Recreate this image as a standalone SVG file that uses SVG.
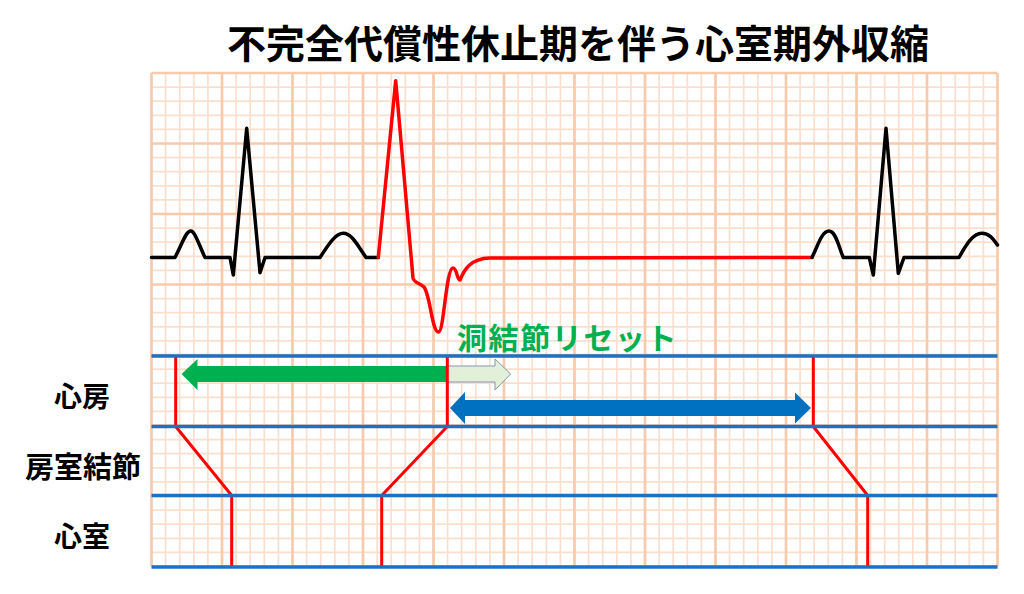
<svg xmlns="http://www.w3.org/2000/svg" width="1024" height="594" viewBox="0 0 1024 594">
<style>
.minor{stroke:#FBDFCD;stroke-width:1.7;fill:none}
.major{stroke:#F7CAAC;stroke-width:2.7;fill:none}
.lane{stroke:#1F70C1;stroke-width:3.5;fill:none}
.cond{stroke:#FF0000;stroke-width:3;fill:none;stroke-linejoin:round}
.ecgb{stroke:#000;stroke-width:3.5;fill:none;stroke-linejoin:round;stroke-linecap:round}
.ecgr{stroke:#FF0000;stroke-width:3.5;fill:none;stroke-linejoin:round;stroke-linecap:round}
.lbl{font-family:"Noto Sans CJK JP","Noto Sans",sans-serif;font-weight:bold;fill:#000}
</style>
<rect width="1024" height="594" fill="#fff"/>
<g id="grid">
<path class="minor" d="M165.6 73V566.5M179.7 73V566.5M193.8 73V566.5M207.9 73V566.5M236.1 73V566.5M250.2 73V566.5M264.3 73V566.5M278.4 73V566.5M306.6 73V566.5M320.7 73V566.5M334.8 73V566.5M348.9 73V566.5M377.1 73V566.5M391.2 73V566.5M405.3 73V566.5M419.4 73V566.5M447.6 73V566.5M461.7 73V566.5M475.8 73V566.5M489.9 73V566.5M518.1 73V566.5M532.2 73V566.5M546.3 73V566.5M560.4 73V566.5M588.6 73V566.5M602.7 73V566.5M616.8 73V566.5M630.9 73V566.5M659.1 73V566.5M673.2 73V566.5M687.3 73V566.5M701.4 73V566.5M729.6 73V566.5M743.7 73V566.5M757.8 73V566.5M771.9 73V566.5M800.1 73V566.5M814.2 73V566.5M828.3 73V566.5M842.4 73V566.5M870.6 73V566.5M884.7 73V566.5M898.8 73V566.5M912.9 73V566.5M941.1 73V566.5M955.2 73V566.5M969.3 73V566.5M983.4 73V566.5
M151.5 87.1H997.5M151.5 101.2H997.5M151.5 115.3H997.5M151.5 129.4H997.5M151.5 157.6H997.5M151.5 171.7H997.5M151.5 185.8H997.5M151.5 199.9H997.5M151.5 228.1H997.5M151.5 242.2H997.5M151.5 256.3H997.5M151.5 270.4H997.5M151.5 298.6H997.5M151.5 312.7H997.5M151.5 326.8H997.5M151.5 340.9H997.5M151.5 369.1H997.5M151.5 383.2H997.5M151.5 397.3H997.5M151.5 411.4H997.5M151.5 439.6H997.5M151.5 453.7H997.5M151.5 467.8H997.5M151.5 481.9H997.5M151.5 510.1H997.5M151.5 524.2H997.5M151.5 538.3H997.5M151.5 552.4H997.5"/>
<path class="major" d="M151.5 73V566.5M222 73V566.5M292.5 73V566.5M363 73V566.5M433.5 73V566.5M504 73V566.5M574.5 73V566.5M645 73V566.5M715.5 73V566.5M786 73V566.5M856.5 73V566.5M927 73V566.5M997.5 73V566.5
M151.5 73H997.5M151.5 143.5H997.5M151.5 214H997.5M151.5 284.5H997.5M151.5 355H997.5M151.5 425.5H997.5M151.5 496H997.5M151.5 566.5H997.5"/>
</g>
<g id="title">
<text class="lbl" x="578" y="58" font-size="39" text-anchor="middle">不完全代償性休止期を伴う心室期外収縮</text>
</g>
<g id="ecg">
<path class="ecgb" d="M151.5 257.5H175C183 242 186 231 190.7 231C195 231 199 245 205 257.5H230L233.3 275L246.7 128.3L260 272.7L265 257.5H320C330 242 336 233.3 343.3 233.3C352 233.3 358 246 366 257.5H378.3"/>
<path class="ecgr" d="M378.3 257.5L395.7 80.7L413 278C414 283 420 283 424 287C430 294 432 332 438.5 332C444 332 446 268 453 268C457 268 457 280 460 280C464 270 470 258.5 490 258L812 257.5"/>
<path class="ecgb" d="M812 257.5C818 245 822 231 829 231C836 231 839 248 843.3 257.5H869.3L873.3 275L886 128.3L898.3 273.3L904 257.5H959C966 245 973 233.3 981.7 233.3C990 233.3 994 240 997.5 245"/>
</g>
<g id="sa-reset-label">
<text class="lbl" x="457" y="349" font-size="30" letter-spacing="1.6" style="fill:#00B050">洞結節リセット</text>
</g>
<g id="row-labels">
<text class="lbl" x="82" y="407" font-size="28" text-anchor="middle">心房</text>
<text class="lbl" x="83" y="478" font-size="29" text-anchor="middle">房室結節</text>
<text class="lbl" x="82" y="547" font-size="28" text-anchor="middle">心室</text>
</g>
<g id="arrows">
<polygon id="green-arrow" points="181.5,374 197.5,359 197.5,366 447,366 447,382 197.5,382 197.5,390" fill="#00B050"/>
<polygon id="light-green-arrow" points="447,366 495,366 495,359 510.7,374 495,390 495,382 447,382" fill="#E2F0D9" stroke="#8497B0" stroke-width="1"/>
<polygon id="blue-arrow" points="450,408 465,392 465,400 795,400 795,392.5 811,408 795,423.5 795,416 465,416 465,424" fill="#0070C0"/>
</g>
<g id="connectors">
<path class="cond" d="M175.7 356V426.5L231.7 495.5V567"/>
<path class="cond" d="M447.3 356V426.5L381.7 495.5V567"/>
<path class="cond" d="M813.3 356V426.5L867.7 495.5V567"/>
</g>
<g id="lanes">
<path class="lane" d="M151.5 356H997.5M151.5 426.5H997.5M151.5 495.5H997.5M151.5 567H997.5"/>
</g>
</svg>
